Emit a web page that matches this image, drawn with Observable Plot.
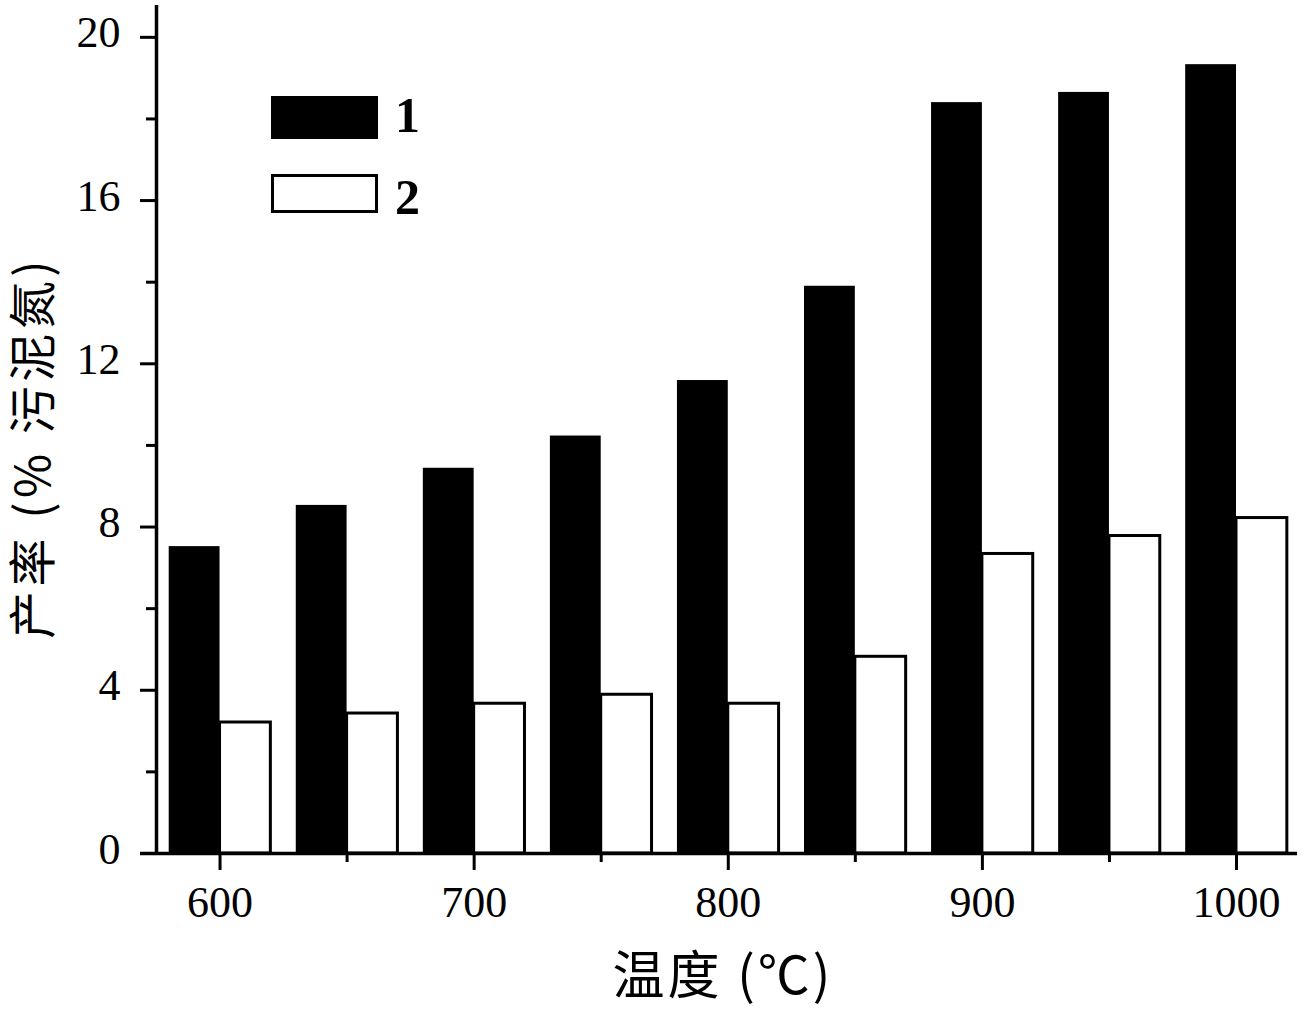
<!DOCTYPE html>
<html><head><meta charset="utf-8">
<script src="https://cdn.jsdelivr.net/npm/d3@7"></script>
<script src="https://cdn.jsdelivr.net/npm/@observablehq/plot@0.6"></script>
<style>
html,body{margin:0;padding:0;background:#fff;}
#wrap{position:relative;width:1304px;height:1014px;}
.sw{position:absolute;box-sizing:border-box;}
.lt{position:absolute;font-family:"Liberation Serif","Times New Roman",serif;font-weight:bold;font-size:50px;line-height:1;color:#000;}
</style></head><body><div id="wrap"></div>
<script>
const temperatures = [600, 650, 700, 750, 800, 850, 900, 950, 1000];
const series1 = [7.52, 8.53, 9.44, 10.23, 11.59, 13.90, 18.40, 18.65, 19.33];
const series2 = [3.21, 3.43, 3.67, 3.89, 3.67, 4.82, 7.34, 7.78, 8.22];
const seriesNames = ["1", "2"];
const xTicks = [600, 700, 800, 900, 1000];
const xMinor = [650, 750, 850, 950];
const yTicks = [0, 4, 8, 12, 16, 20];
const yMinor = [2, 6, 10, 14, 18];
const xTitle = "温度 (℃)";
const yTitle = "产率 (% 污泥氮)";
const barSpan = 20;

const data1 = temperatures.map((t, i) => ({t, v: series1[i]}));
const data2 = temperatures.map((t, i) => ({t, v: series2[i]}));

const serif = "'Liberation Serif','Times New Roman',serif";
const cjk = "'Noto Sans CJK SC','Noto Sans',sans-serif";

const chart = Plot.plot({
  width: 1304,
  height: 1014,
  marginLeft: 156,
  marginRight: 7,
  marginTop: 5,
  marginBottom: 161,
  style: {background: "#fff", color: "#000"},
  x: {type: "linear", domain: [575, 1024], axis: null, label: null},
  y: {domain: [0, 20.78], axis: null, label: null},
  marks: [
    Plot.rectY(data1, {x1: d => d.t - barSpan, x2: d => d.t, y1: 0, y2: "v", fill: "#000"}),
    Plot.rectY(data2, {x1: d => d.t, x2: d => d.t + barSpan, y1: 0, y2: "v", fill: "#fff", stroke: "#000", strokeWidth: 3}),
    // axis ticks
    Plot.axisX(xTicks, {tickSize: 17, strokeWidth: 3, text: null, label: null}),
    Plot.axisX(xMinor, {tickSize: 9, strokeWidth: 3, text: null, label: null}),
    Plot.axisY(yTicks, {tickSize: 16, strokeWidth: 3, text: null, label: null}),
    Plot.axisY(yMinor, {tickSize: 10, strokeWidth: 3, text: null, label: null}),
    // tick labels
    Plot.axisX(xTicks, {tickSize: 0, tickPadding: 32, fontSize: 44, fontFamily: serif, label: null, tickFormat: d => String(d)}),
    Plot.axisY(yTicks, {tickSize: 0, tickPadding: 36, dy: -4, fontSize: 44, fontFamily: serif, label: null, tickFormat: d => String(d)}),
    // axis lines
    Plot.ruleX([575], {strokeWidth: 3.5}),
    Plot.ruleY([0], {strokeWidth: 3.5, insetLeft: -16}),
    // titles
    Plot.text([xTitle], {frameAnchor: "bottom", textAnchor: "middle", dx: -4, dy: 124, lineAnchor: "middle", fontSize: 52, fontFamily: cjk}),
    Plot.text([yTitle], {frameAnchor: "left", textAnchor: "middle", rotate: -90, dx: -122, dy: 18, lineAnchor: "middle", fontSize: 48, fontFamily: cjk})
  ]
});

d3.select(chart).selectAll("text").filter(function() {
  const t = this.textContent;
  return t === xTitle;
}).style("letter-spacing", "3px");
d3.select(chart).selectAll("text").filter(function() {
  return this.textContent === yTitle;
}).style("letter-spacing", "4.5px");

const wrap = document.getElementById("wrap");
wrap.appendChild(chart);

// legend
const legendItems = [
  {name: seriesNames[0], fill: "#000", top: 96, h: 43, ly: 90},
  {name: seriesNames[1], fill: "#fff", top: 174, h: 39, ly: 172}
];
for (const it of legendItems) {
  const sw = document.createElement("div");
  sw.className = "sw";
  sw.style.left = "271px";
  sw.style.top = it.top + "px";
  sw.style.width = "107px";
  sw.style.height = it.h + "px";
  sw.style.background = it.fill;
  sw.style.border = "3px solid #000";
  wrap.appendChild(sw);
  const lt = document.createElement("div");
  lt.className = "lt";
  lt.style.left = "395px";
  lt.style.top = it.ly + "px";
  lt.textContent = it.name;
  wrap.appendChild(lt);
}
</script>
</body></html>
